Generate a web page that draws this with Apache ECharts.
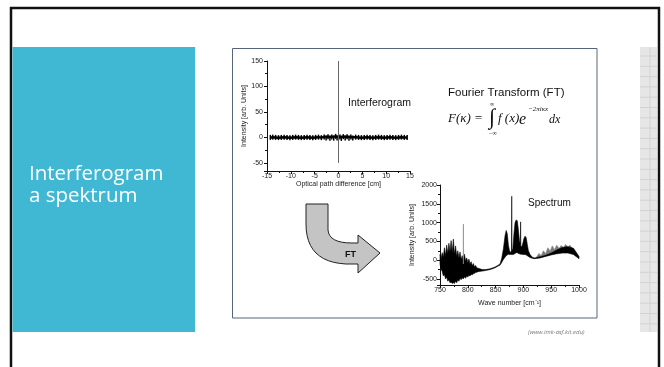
<!DOCTYPE html>
<html>
<head>
<meta charset="utf-8">
<script src="https://cdn.jsdelivr.net/npm/echarts@6/dist/echarts.min.js"></script>
<style>
  html, body { margin: 0; padding: 0; background: #fff; }
  #chart { width: 664px; height: 367px; }
</style>
</head>
<body>
<div id="chart"></div>
<script>
// interferogram (optical path difference in cm, intensity)
const igX = [-14.3,-13.8,-13.2,-12.6,-12,-11.4,-10.8,-10.2,-9.6,-9,-8.4,-7.8,-7.2,-6.6,-6,-5.4,-4.8,-4.2,-3.6,-3,
  -2.6,-2.2,-1.8,-1.4,-1,-0.6,-0.3,0.3,0.6,1,1.4,1.8,2.2,2.6,3,3.6,4.2,4.8,5.4,6,
  6.6,7.2,7.8,8.4,9,9.6,10.2,10.8,11.4,12,12.6,13.2,13.8,14.4];
const igY = [0,0.5,0,-0.5,0,0.5,0,-0.5,0,0.5,0,-0.5,0,0.5,0,-0.5,0,0.5,-0.5,1,
  -1,1.5,-1.5,1,-1.5,2,-1,1,-2,1.5,-1,1.5,-1.5,1,-1,0.5,0,-0.5,0,0.5,
  0,-0.5,0,0.5,0,-0.5,0,0.5,0,-0.5,0,0.5,0,0];
// centre burst at zero path difference
const burstX = [0, 0];
const burstY = [-50, 150];

// spectrum envelope (wave number, upper / lower edge of the dense trace)
const specWave = [750,752,754,756,758,760,762,764,766,768,770,772,774,776,778,780,782,784,786,788,
  790,792,794,796,798,800,802,804,806,808,810,812,814,816,
  820,826,832,840,848,854,858,861,864,867,
  869,871,873,875,877,878.6,879,879.4,881,883,
  885,887,889,891,893,894.6,895,895.4,897,899,
  901,903,905,907,909,912,916,920,930,940,
  950,960,970,980,990,1000];
const specHigh = [150,60,200,80,330,120,400,180,450,220,520,200,560,150,380,100,250,60,220,20,
  120,0,160,-20,60,-60,30,-100,-40,-150,-90,-180,-140,-200,
  -220,-250,-250,-230,-190,-140,-100,50,300,650,
  790,700,400,250,200,260,1700,260,300,700,
  1000,1070,1050,800,500,450,1020,380,350,450,
  580,640,600,420,250,150,80,60,90,130,
  190,270,340,360,320,100];
const specLow = [-100,-250,-300,-420,-380,-500,-450,-560,-520,-600,-580,-620,-600,-620,-560,-600,-520,-560,-480,-520,
  -470,-500,-440,-480,-420,-450,-400,-420,-380,-390,-360,-350,-330,-320,
  -300,-290,-275,-250,-210,-160,-130,-60,20,80,
  120,140,160,150,150,150,150,150,150,160,
  180,200,200,180,170,160,160,160,160,150,
  150,150,140,120,100,70,50,40,60,100,
  140,170,190,190,150,40];

// grey part of the broad band around 950 cm-1
const greyWave = [924,928,932,936,940,944,948,952,956,960,964,968,972,976,980,984,988,992,996];
const greyHigh = [90,180,120,250,170,330,240,380,280,400,310,390,330,420,350,400,300,260,150];
const greyLow = [60,80,90,110,120,140,150,165,175,185,195,200,205,205,205,200,190,170,130];

// single grey line near 792 cm-1
const spikeWave = [792, 792];
const spikeVal = [-100, 960];

const AXIS_FONT = 'Liberation Sans';

const chart = echarts.init(document.getElementById('chart'));

function band(wave, high, low, color, z) {
  return {
    type: 'custom',
    xAxisIndex: 1,
    yAxisIndex: 1,
    z: z,
    silent: true,
    data: [[wave[0], high[0]]],
    renderItem: (params, api) => {
      const pts = [];
      wave.forEach((w, i) => pts.push(api.coord([w, high[i]])));
      for (let i = wave.length - 1; i >= 0; i--) pts.push(api.coord([wave[i], low[i]]));
      return {
        type: 'polygon',
        shape: { points: pts },
        style: { fill: color, stroke: color, lineWidth: 0.6 }
      };
    }
  };
}

function valueAxis(extra) {
  return Object.assign({
    type: 'value',
    splitLine: { show: false },
    axisLine: { show: true, onZero: false, lineStyle: { color: '#111', width: 1 } },
    axisTick: { show: true, length: 3, lineStyle: { color: '#111' } },
    minorTick: { show: true, splitNumber: 2, length: 2, lineStyle: { color: '#111' } },
    nameLocation: 'middle',
    nameTextStyle: { fontFamily: AXIS_FONT, fontSize: 7, color: '#222' }
  }, extra);
}

function tickLabel(margin, step) {
  return {
    fontFamily: AXIS_FONT, fontSize: 7, color: '#222', margin: margin,
    formatter: (v) => (v % step === 0 ? String(v) : '')
  };
}

// quadratic curve points for the bent FT arrow outline
function quad(p0, c, p1, n) {
  const out = [];
  for (let i = 1; i <= n; i++) {
    const t = i / n, u = 1 - t;
    out.push([u * u * p0[0] + 2 * u * t * c[0] + t * t * p1[0], u * u * p0[1] + 2 * u * t * c[1] + t * t * p1[1]]);
  }
  return out;
}
const arrowPts = [[306, 204], [328, 204], [328, 230]]
  .concat(quad([328, 230], [329, 243], [352, 243], 8))
  .concat([[358, 243], [358, 235], [380, 253], [358, 273], [358, 264], [346, 264]])
  .concat(quad([346, 264], [306, 262], [306, 224], 12));

// decorative grid strip on the right edge
const stripLines = [];
for (let y = 56; y < 332; y += 10.3) {
  stripLines.push({ type: 'line', z: -3, shape: { x1: 640, y1: y, x2: 657, y2: y }, style: { stroke: '#d2d2d2', lineWidth: 1 } });
}

const option = {
  animation: false,
  backgroundColor: '#fff',
  grid: [
    { left: 267, top: 61, width: 143, height: 110 },
    { left: 440, top: 185, width: 139, height: 100 }
  ],
  xAxis: [
    valueAxis({ gridIndex: 0, min: -15, max: 15, interval: 5,
      name: 'Optical path difference [cm]', nameGap: 9, axisLabel: tickLabel(2, 5) }),
    valueAxis({ gridIndex: 1, min: 750, max: 1000, interval: 50,
      name: 'Wave number [cm\u207B\u00B9]', nameGap: 15, axisLabel: tickLabel(2, 50) })
  ],
  yAxis: [
    valueAxis({ gridIndex: 0, min: -66, max: 150, splitNumber: 4,
      name: 'Intensity [arb. Units]', nameGap: 19, nameRotate: 90, axisLabel: tickLabel(4, 50) }),
    valueAxis({ gridIndex: 1, min: -660, max: 2000, splitNumber: 5,
      name: 'Intensity [arb. Units]', nameGap: 24, nameRotate: 90, axisLabel: tickLabel(3, 500) })
  ],
  series: [
    {
      type: 'line',
      xAxisIndex: 0, yAxisIndex: 0,
      data: igX.map((x, i) => [x, igY[i]]),
      symbol: 'rect', symbolSize: [1.5, 5], showSymbol: true,
      itemStyle: { color: '#000' },
      lineStyle: { color: '#000', width: 2.5 },
      z: 3
    },
    {
      type: 'line',
      xAxisIndex: 0, yAxisIndex: 0,
      data: burstX.map((x, i) => [x, burstY[i]]),
      showSymbol: false,
      lineStyle: { color: '#666', width: 1 },
      z: 4
    },
    band(greyWave, greyHigh, greyLow, '#7a7a7a', 2),
    band(specWave, specHigh, specLow, '#000', 3),
    {
      type: 'line',
      xAxisIndex: 1, yAxisIndex: 1,
      data: spikeWave.map((w, i) => [w, spikeVal[i]]),
      showSymbol: false,
      lineStyle: { color: '#8a8a8a', width: 1 },
      z: 4
    }
  ],
  graphic: [
    // slide frame
    { type: 'rect', z: -5, shape: { x: 11, y: 8, width: 648, height: 420 }, style: { fill: '#fff', stroke: '#111', lineWidth: 2.5 } },
    { type: 'rect', z: -4, shape: { x: 12.5, y: 47, width: 182.5, height: 285 }, style: { fill: '#41b8d3' } },
    { type: 'text', z: 10, x: 29, y: 174, style: { text: 'Interferogram', fill: '#fff', font: '20.5px "Open Sans"', verticalAlign: 'middle' } },
    { type: 'text', z: 10, x: 29, y: 196, style: { text: 'a spektrum', fill: '#fff', font: '20.5px "Open Sans"', verticalAlign: 'middle' } },
    { type: 'rect', z: -4, shape: { x: 640, y: 47, width: 17, height: 285 }, style: { fill: '#e6e6e6' } },
    { type: 'line', z: -3, shape: { x1: 650, y1: 47, x2: 650, y2: 332 }, style: { stroke: '#d2d2d2', lineWidth: 1 } }
  ].concat(stripLines).concat([
    // picture panel
    { type: 'rect', z: -3, shape: { x: 232.5, y: 48.5, width: 364.5, height: 269.5 }, style: { fill: '#fff', stroke: '#56667a', lineWidth: 1 } },
    { type: 'text', z: 10, x: 348, y: 103, style: { text: 'Interferogram', fill: '#111', font: '10.5px "Liberation Sans"', verticalAlign: 'middle' } },
    { type: 'text', z: 10, x: 528, y: 203.5, style: { text: 'Spectrum', fill: '#111', font: '10px "Liberation Sans"', verticalAlign: 'middle' } },
    { type: 'text', z: 10, x: 448, y: 93, style: { text: 'Fourier Transform (FT)', fill: '#111', font: '11.5px "Liberation Sans"', verticalAlign: 'middle' } },
    // formula
    { type: 'text', z: 10, x: 448, y: 119, style: { text: 'F(\u03BA) =', fill: '#111', font: 'italic 13px "Liberation Serif"', verticalAlign: 'middle' } },
    { type: 'text', z: 10, x: 489, y: 118, style: { text: '\u222B', fill: '#111', font: '22px "Liberation Serif"', verticalAlign: 'middle' } },
    { type: 'text', z: 10, x: 490, y: 104, style: { text: '\u221E', fill: '#111', font: '6px "Liberation Serif"', verticalAlign: 'middle' } },
    { type: 'text', z: 10, x: 489, y: 133, style: { text: '\u2212\u221E', fill: '#111', font: '6px "Liberation Serif"', verticalAlign: 'middle' } },
    { type: 'text', z: 10, x: 498, y: 119, style: { text: 'f (x)', fill: '#111', font: 'italic 13px "Liberation Serif"', verticalAlign: 'middle' } },
    { type: 'text', z: 10, x: 519, y: 120, style: { text: 'e', fill: '#111', font: 'italic 16px "Liberation Serif"', verticalAlign: 'middle' } },
    { type: 'text', z: 10, x: 528, y: 109, style: { text: '\u22122\u03C0i\u03BAx', fill: '#111', font: 'italic 7px "Liberation Serif"', verticalAlign: 'middle' } },
    { type: 'text', z: 10, x: 549, y: 120, style: { text: 'dx', fill: '#111', font: 'italic 12px "Liberation Serif"', verticalAlign: 'middle' } },
    // FT arrow
    { type: 'polygon', z: 5, shape: { points: arrowPts }, style: { fill: '#c4c4c4', stroke: '#222', lineWidth: 1 } },
    { type: 'text', z: 10, x: 345, y: 255, style: { text: 'FT', fill: '#111', font: 'bold 9px "Liberation Sans"', verticalAlign: 'middle' } },
    // source
    { type: 'text', z: 10, x: 528, y: 332, style: { text: '(www.imk-asf.kit.edu)', fill: '#777', font: 'italic 6px "Open Sans"', verticalAlign: 'middle' } }
  ])
};

chart.setOption(option);
</script>
</body>
</html>
